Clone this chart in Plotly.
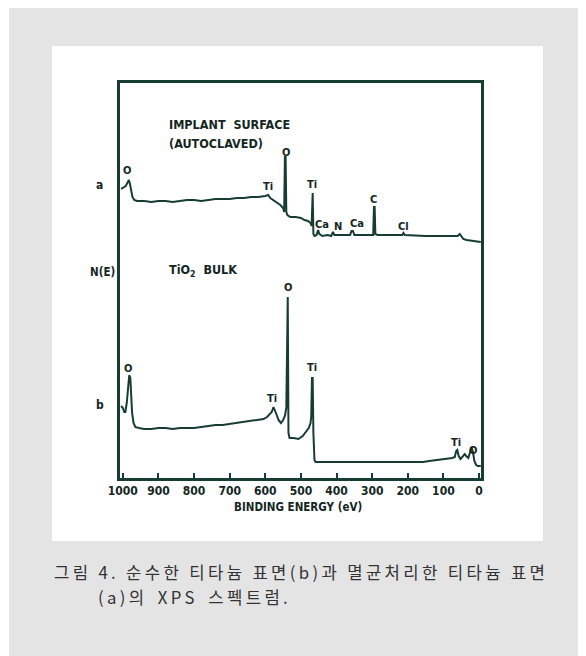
import plotly.graph_objects as go

# ---- data (binding energy in eV, intensity in arbitrary display units) ----
a_energy = [1005, 1000, 992, 986, 983, 980, 977, 973, 968, 960, 940, 920, 900, 880, 860, 840,
            820, 800, 780, 760, 740, 720, 700, 680, 660, 640, 620, 600, 592, 586, 578, 568,
            558, 550, 547, 545, 543, 541, 538, 530, 515, 500, 490, 480, 473, 470, 469, 467,
            465, 462, 456, 452, 448, 440, 425, 415, 410, 406, 395, 375, 362, 358, 354, 350,
            330, 305, 297, 295, 293, 291, 285, 250, 215, 212, 208, 150, 100, 60, 54, 50,
            44, 35, 20, 5, -5]
a_counts = [289, 290, 292, 296, 298, 294, 288, 281, 278, 277, 277, 276, 277, 277, 276, 277,
            278, 278, 277, 278, 279, 279, 279, 280, 280, 281, 281, 282, 283, 280, 278, 276,
            273, 270, 266, 321, 321, 266, 263, 261, 261, 260, 258, 257, 255, 252, 285, 285,
            244, 242, 243, 248, 244, 242, 243, 242, 246, 243, 243, 243, 243, 247, 247, 243,
            243, 243, 243, 271, 271, 244, 243, 243, 243, 245, 243, 242, 242, 242, 244, 242,
            239, 238, 237, 236, 236]

b_energy = [1005, 1000, 996, 993, 989, 985, 982, 979, 977, 974, 970, 965, 955, 940, 920, 900,
            880, 860, 840, 820, 800, 780, 760, 740, 720, 700, 680, 660, 640, 620, 605, 595,
            588, 582, 577, 573, 568, 563, 556, 550, 545, 541, 539, 537, 535, 532, 520, 507,
            495, 485, 478, 473, 471, 469, 467, 465, 462, 459, 400, 300, 200, 157, 140, 120,
            105, 90, 75, 68, 64, 61, 57, 52, 46, 40, 36, 30, 25, 21, 17, 13, 8, 3, -5]
b_counts = [72, 70, 66, 66, 75, 88, 103, 100, 80, 65, 55, 51, 50, 49, 49, 50,
            50, 49, 50, 50, 50, 51, 52, 53, 53, 54, 55, 56, 57, 58, 59, 61,
            64, 66, 71, 68, 63, 58, 55, 58, 62, 70, 181, 181, 45, 40, 40, 39,
            42, 47, 50, 55, 62, 100, 100, 45, 18, 16, 16, 16, 16, 16, 17, 18,
            18, 19, 20, 21, 27, 28, 22, 19, 21, 24, 22, 20, 26, 31, 26, 17, 13, 12, 12]

# peak labels: (text, energy, intensity)
peak_labels = [
    ("O", 989, 308), ("O", 542, 326), ("Ti", 593, 292), ("Ti", 469, 294),
    ("Ca", 441, 254), ("N", 396, 252), ("Ca", 343, 255), ("C", 295, 279), ("Cl", 211, 252),
    ("O", 986, 110), ("Ti", 581, 80), ("O", 537, 191), ("Ti", 469, 111),
    ("Ti", 65, 36), ("O", 17, 28),
]
x_ticks = [1000, 900, 800, 700, 600, 500, 400, 300, 200, 100, 0]

caption_line1 = "그림 4. 순수한 티타늄 표면(b)과 멸균처리한 티타늄 표면"
caption_line2 = "(a)의 XPS 스펙트럼."

INK = "#173d33"
TXT = "#14261f"
LBL_FONT = "Liberation Sans Narrow, DejaVu Sans Condensed, Arial Narrow, sans-serif"

# page body has an 8px default margin -> shift everything
OFF = 8
W, H = 586 - OFF, 656 - OFF
L, R, T, B = 120 - OFF, 481 - OFF, 83 - OFF, 478 - OFF


def px(xp):
    return (xp - OFF - L) / (R - L)


def py(yp):
    return (B - (yp - OFF)) / (B - T)


def spaced(s, wide_space=False):
    out = "\u2009".join(list(s))
    if wide_space:
        out = out.replace(" ", " \u2009")
    return out


fig = go.Figure()
fig.add_trace(go.Scatter(x=a_energy, y=a_counts, mode="lines",
                         line=dict(color=INK, width=2), hoverinfo="skip", showlegend=False))
fig.add_trace(go.Scatter(x=b_energy, y=b_counts, mode="lines",
                         line=dict(color=INK, width=2), hoverinfo="skip", showlegend=False))

shapes = [
    dict(type="rect", xref="paper", yref="paper", x0=px(9), x1=px(600), y0=py(670), y1=py(6),
         fillcolor="#e4e4e4", line=dict(width=0), layer="below"),
    dict(type="rect", xref="paper", yref="paper", x0=px(52), x1=px(543), y0=py(541), y1=py(46),
         fillcolor="#ffffff", line=dict(width=0), layer="below"),
]

annotations = []
for t, e, v in peak_labels:
    annotations.append(dict(x=e, y=v, xref="x", yref="y", text=f"<b>{t}</b>", showarrow=False,
                            font=dict(family=LBL_FONT, size=11, color=TXT)))

for t, xp, yp, anchor, sz in [("<b>IMPLANT  SURFACE</b>", 167, 124, "left", 12.5),
                              ("<b>(AUTOCLAVED)</b>", 167, 143, "left", 12.5),
                              ("<b>TiO<sub>2</sub>  BULK</b>", 167, 270, "left", 12.5),
                              ("<b>a</b>", 99, 185, "center", 12),
                              ("<b>N(E)</b>", 102, 272, "center", 11.5),
                              ("<b>b</b>", 100, 405, "center", 12),
                              ("<b>BINDING ENERGY (eV)</b>", 298, 507, "center", 11.5)]:
    annotations.append(dict(x=px(xp), y=py(yp), xref="paper", yref="paper", text=t,
                            showarrow=False, xanchor=anchor, yanchor="middle",
                            font=dict(family=LBL_FONT, size=sz, color=TXT)))

annotations.append(dict(x=px(52), y=py(572), xref="paper", yref="paper",
                        text=spaced(caption_line1),
                        showarrow=False, xanchor="left", yanchor="middle",
                        font=dict(family="Noto Sans CJK KR", size=16.7, color="#333333")))
annotations.append(dict(x=px(96), y=py(597), xref="paper", yref="paper",
                        text=spaced(caption_line2, wide_space=True),
                        showarrow=False, xanchor="left", yanchor="middle",
                        font=dict(family="Noto Sans CJK KR", size=16.7, color="#333333")))

fig.update_layout(
    width=W, height=H,
    margin=dict(l=L, r=W - R, t=T, b=H - B, pad=0),
    paper_bgcolor="#ffffff", plot_bgcolor="rgba(0,0,0,0)",
    shapes=shapes, annotations=annotations,
    xaxis=dict(range=[1008, -5.6], tickvals=x_ticks, ticktext=[str(v) for v in x_ticks],
               ticks="inside", ticklen=5, tickwidth=2, tickcolor=INK,
               showline=True, linecolor=INK, linewidth=2.5, mirror=True,
               showgrid=False, zeroline=False,
               tickfont=dict(family=LBL_FONT, size=12, color=TXT, weight="bold")),
    yaxis=dict(range=[0, B - T], showticklabels=False, ticks="",
               showline=True, linecolor=INK, linewidth=2.5, mirror=True,
               showgrid=False, zeroline=False),
)

fig.write_html("out.html")
